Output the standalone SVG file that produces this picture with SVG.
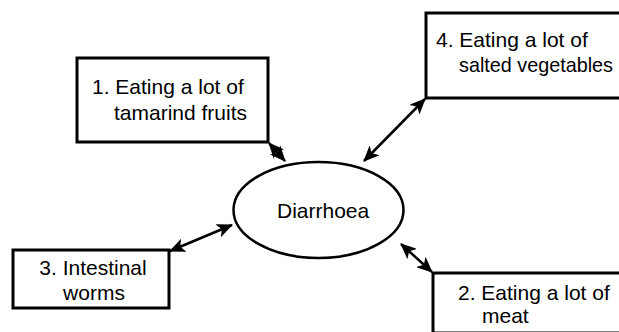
<svg xmlns="http://www.w3.org/2000/svg" width="619" height="332" viewBox="0 0 619 332">
<style>
.box{fill:#fff;stroke:#000;stroke-width:3}
.ell{fill:#fff;stroke:#000;stroke-width:2.5}
.t{font-family:"Liberation Sans",Arial,sans-serif;font-size:21px;fill:#000}
.c{stroke:#000;stroke-width:2.5;fill:none;marker-start:url(#ah);marker-end:url(#ah)}
</style>
<defs>
<marker id="ah" markerUnits="userSpaceOnUse" markerWidth="16" markerHeight="14" viewBox="0 0 16 14" refX="15" refY="7" orient="auto-start-reverse">
<path d="M0,0 L16,7 L0,14 L4,7 Z" fill="#000"/>
</marker>
</defs>
<rect width="619" height="332" fill="#fff"/>
<g id="n1">
<rect class="box" x="77" y="58" width="191" height="84"/>
<text class="t" x="92" y="94">1. Eating a lot of</text>
<text class="t" x="114" y="120">tamarind fruits</text>
</g>
<g id="n4">
<rect class="box" x="426" y="13" width="220" height="85"/>
<text class="t" x="436" y="47">4. Eating a lot of</text>
<text class="t" x="459" y="72" textLength="154" lengthAdjust="spacingAndGlyphs">salted vegetables</text>
</g>
<g id="n3">
<rect class="box" x="13" y="250" width="156" height="58"/>
<text class="t" x="93" y="275" text-anchor="middle">3. Intestinal</text>
<text class="t" x="94" y="300" text-anchor="middle">worms</text>
</g>
<g id="n2">
<rect class="box" x="433" y="273" width="220" height="60"/>
<text class="t" x="458" y="300">2. Eating a lot of</text>
<text class="t" x="482" y="323">meat</text>
</g>
<g id="n0">
<ellipse class="ell" cx="318.5" cy="210" rx="85" ry="48"/>
<text class="t" x="277" y="218">Diarrhoea</text>
</g>
<g id="connectors">
<line class="c" x1="269" y1="143" x2="285" y2="161"/>
<line class="c" x1="425" y1="99" x2="364" y2="161"/>
<line class="c" x1="170" y1="251" x2="232" y2="225"/>
<line class="c" x1="401" y1="244" x2="432" y2="272"/>
</g>
</svg>
